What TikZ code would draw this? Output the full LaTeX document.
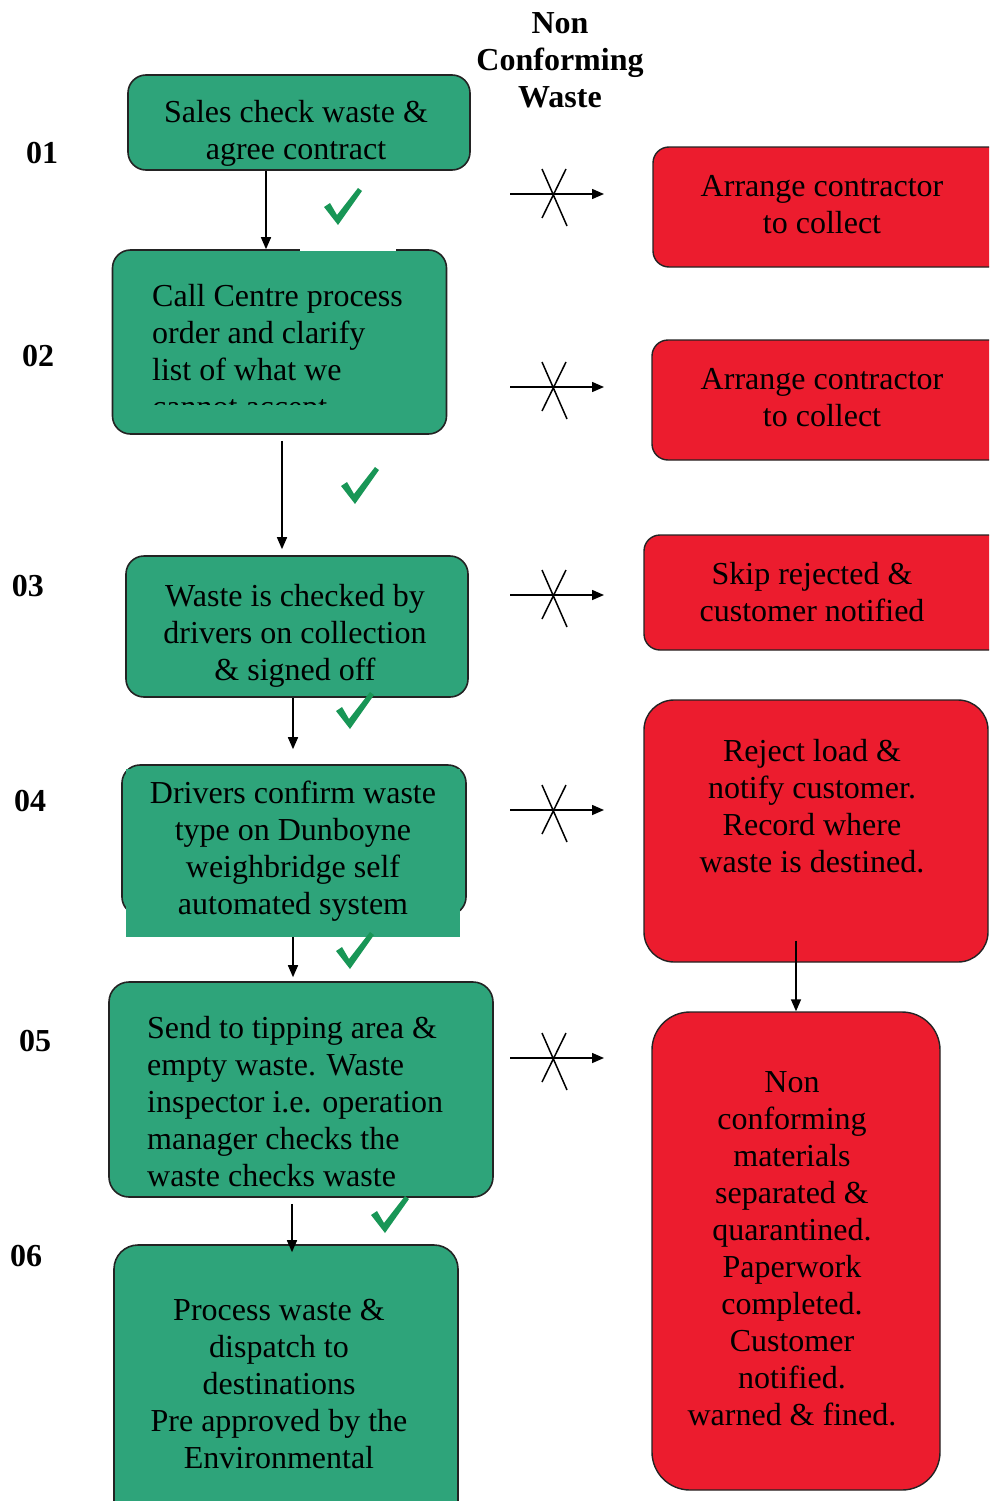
\documentclass[tikz,border=0pt]{standalone}
\usepackage{fontspec}
\setmainfont{Liberation Serif}
\usetikzlibrary{arrows.meta}

\definecolor{boxgreen}{RGB}{46,164,122}
\definecolor{boxred}{RGB}{236,28,46}
\definecolor{tickgreen}{RGB}{24,150,86}
\definecolor{edge}{RGB}{35,35,35}

\tikzset{
  gbox/.style={draw=edge, fill=boxgreen, line width=1.6pt, rounded corners=18pt, inner sep=0pt},
  rbox/.style={draw=edge, fill=boxred, line width=1.4pt, rounded corners=16pt, inner sep=0pt},
  txt/.style={font=\fontsize{32}{37}\selectfont, align=center, inner sep=0pt},
  num/.style={font=\fontsize{32}{37}\selectfont\bfseries, inner sep=0pt},
  arr/.style={line width=1.5pt, -{Triangle[length=12pt,width=10pt]}},
}

% green tick mark, centred on #1
\newcommand{\tick}[1]{%
  \fill[tickgreen, shift={(#1)}] (-19,-1) -- (-5,17) -- (19,-17) -- (15,-20) -- (-6,7) -- (-13,-5) -- cycle;}

\begin{document}
\begin{tikzpicture}[x=1pt,y=-1pt]
\useasboundingbox (0,0) rectangle (989,1501);
\clip (0,0) rectangle (989,1501);

% heading
\node[txt, font=\fontsize{32}{37}\selectfont\bfseries] (head) at (560,60) {Non\\Conforming\\Waste};

% step numbers
\node[num] (n01) at (42,153) {01};
\node[num] (n02) at (38,356) {02};
\node[num] (n03) at (28,586) {03};
\node[num] (n04) at (30,801) {04};
\node[num] (n05) at (35,1041) {05};
\node[num] (n06) at (26,1256) {06};

% process boxes
\node[gbox, minimum width=342pt, minimum height=95pt] (b1) at (299,122.5) {};
\node[txt] (t1) at (296,133) {Sales check waste \&\\agree contract};

\node[gbox, minimum width=334pt, minimum height=184pt] (b2) at (279.5,342) {};
\draw[white, line width=4pt] (300,249) -- (396,249);
\begin{scope}
  \clip (113,260) rectangle (446,404);
  \node[txt, align=left, anchor=west] (t2) at (152,354) {Call Centre process\\order and clarify\\list of what we\\cannot accept};
\end{scope}

\node[gbox, minimum width=342pt, minimum height=141pt] (b3) at (297,626.5) {};
\node[txt] (t3) at (295,636) {Waste is checked by\\drivers on collection\\\& signed off};

\node[gbox, minimum width=344pt, minimum height=150pt] (b4) at (294,840) {};
\node[fill=boxgreen, inner sep=0pt, minimum width=334pt, minimum height=168pt] (b4p) at (293,853) {};
\node[txt] (t4) at (293,851) {Drivers confirm waste\\type on Dunboyne\\weighbridge self\\automated system};

\node[gbox, minimum width=384pt, minimum height=215pt, rounded corners=20pt] (b5) at (301,1089.5) {};
\node[txt, align=left, anchor=west] (t5) at (147,1101.5) {Send to tipping area \&\\empty waste. Waste\\inspector i.e. operation\\manager checks the\\waste checks waste};

\node[gbox, minimum width=344pt, minimum height=280pt, rounded corners=24pt] (b6) at (286,1385) {};
\node[txt] (t6) at (279,1384) {Process waste \&\\dispatch to\\destinations\\Pre approved by the\\Environmental};

% flow down the left column
\coordinate (c1) at (266,0);
\coordinate (c2) at (282,0);
\coordinate (c3) at (293,0);
\coordinate (c5) at (292,0);
\draw[arr] (b1.south -| c1) -- (b2.north -| c1);
\draw[arr, shorten <=6pt, shorten >=6pt] (b2.south -| c2) -- (b3.north -| c2);
\draw[arr, shorten >=15pt] (b3.south -| c3) -- (b4.north -| c3);
\draw[arr, shorten >=4pt] (b4p.south -| c3) -- (b5.north -| c3);
\draw[arr, shorten <=6pt, shorten >=-8pt] (b5.south -| c5) -- (b6.north -| c5);

\tick{343,208}
\tick{360,487}
\tick{355,712}
\tick{355,952}
\tick{390,1216}

% non conforming branch
\foreach \r/\yy in {1/194, 2/387, 3/595, 4/810, 5/1058} {
  \coordinate (x\r s) at (510,\yy);
  \coordinate (x\r e) at (604,\yy);
  \draw[arr] (x\r s) -- (x\r e);
  \draw[line width=1.5pt] (542,\yy-25) -- (567,\yy+32) (566,\yy-25) -- (542,\yy+24);
}

\node[rbox, minimum width=367pt, minimum height=120pt] (r1) at (836.5,207) {};
\node[txt] (s1) at (822,205) {Arrange contractor\\to collect};

\node[rbox, minimum width=368pt, minimum height=120pt] (r2) at (836,400) {};
\node[txt] (s2) at (822,398) {Arrange contractor\\to collect};

\node[rbox, minimum width=376pt, minimum height=115pt] (r3) at (832,592.5) {};
\node[txt] (s3) at (812,592) {Skip rejected \&\\customer notified};

\node[rbox, minimum width=344pt, minimum height=262pt, rounded corners=30pt] (r4) at (816,831) {};
\node[txt] (s4) at (812,806) {Reject load \&\\notify customer.\\Record where\\waste is destined.};

\node[rbox, minimum width=288pt, minimum height=478pt, rounded corners=38pt] (r5) at (796,1251) {};
\node[txt] (s5) at (792,1249) {Non\\conforming\\materials\\separated \&\\quarantined.\\Paperwork\\completed.\\Customer\\notified.\\warned \& fined.};

\coordinate (cD) at (796,0);
\draw[arr, shorten <=-22pt] (r4.south -| cD) -- (r5.north -| cD);
\end{tikzpicture}
\end{document}
